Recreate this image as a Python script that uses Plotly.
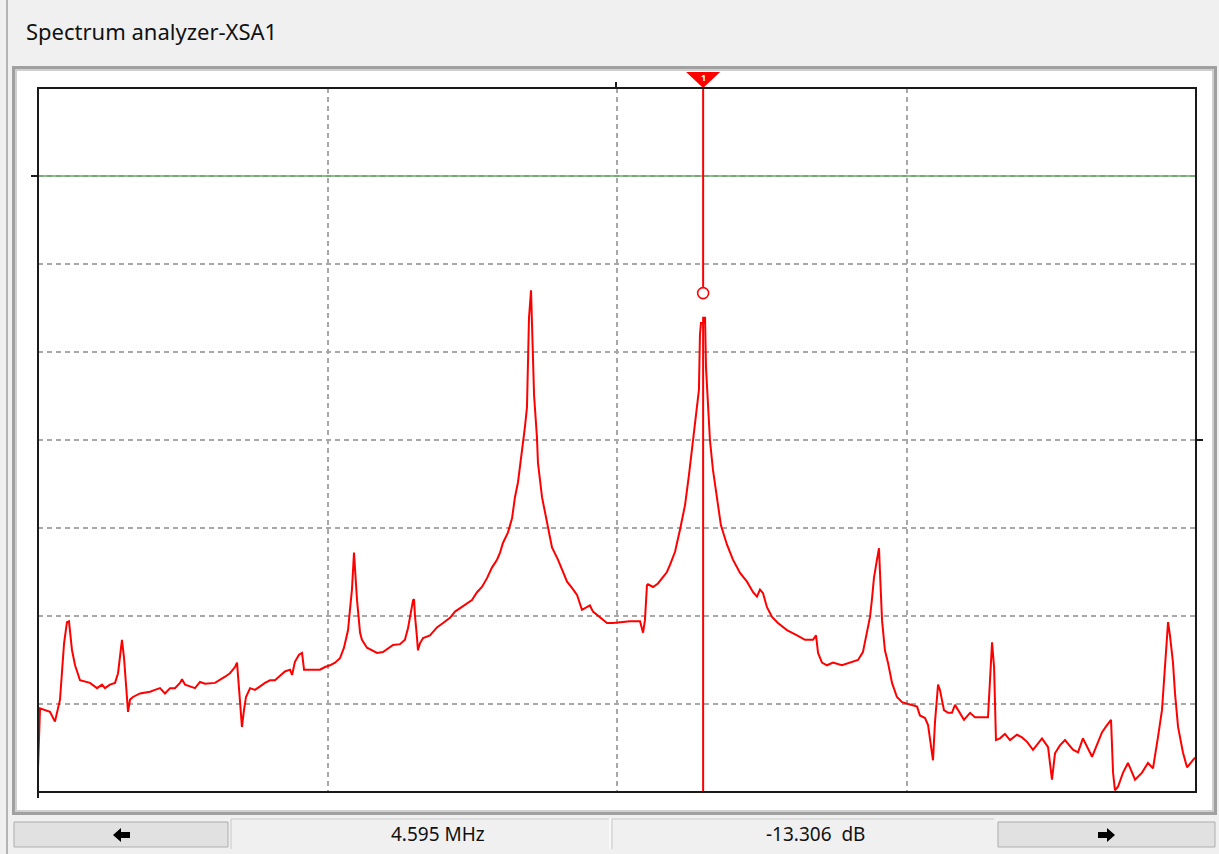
import plotly.graph_objects as go

# ---------------- data ----------------
freq_mhz = [
    0.000, 0.007, 0.014, 0.083, 0.117, 0.152, 0.166, 0.180, 0.200, 0.214,
    0.235, 0.256, 0.290, 0.359, 0.408, 0.442, 0.463, 0.497, 0.532, 0.553,
    0.580, 0.594, 0.608, 0.622, 0.636, 0.656, 0.705, 0.774, 0.808, 0.843,
    0.877, 0.912, 0.946, 0.981, 0.995, 1.016, 1.050, 1.085, 1.119, 1.154,
    1.223, 1.257, 1.292, 1.326, 1.361, 1.375, 1.396, 1.409, 1.423, 1.437,
    1.465, 1.499, 1.534, 1.568, 1.603, 1.637, 1.672, 1.706, 1.741, 1.755,
    1.775, 1.803, 1.824, 1.838, 1.879, 1.948, 1.983, 2.017, 2.052, 2.086,
    2.114, 2.142, 2.155, 2.169, 2.183, 2.204, 2.225, 2.238, 2.273, 2.342,
    2.383, 2.453, 2.501, 2.535, 2.556, 2.570, 2.591, 2.598, 2.604, 2.618,
    2.625, 2.639, 2.660, 2.708, 2.756, 2.798, 2.846, 2.881, 2.915, 2.964,
    2.998, 3.033, 3.067, 3.102, 3.136, 3.171, 3.192, 3.212, 3.247, 3.275,
    3.295, 3.316, 3.330, 3.351, 3.364, 3.378, 3.385, 3.392, 3.406, 3.413,
    3.427, 3.447, 3.454, 3.482, 3.516, 3.551, 3.592, 3.620, 3.655, 3.689,
    3.724, 3.758, 3.793, 3.813, 3.834, 3.883, 3.931, 3.972, 4.035, 4.090,
    4.159, 4.173, 4.180, 4.193, 4.207, 4.214, 4.249, 4.283, 4.318, 4.345,
    4.366, 4.401, 4.435, 4.470, 4.497, 4.525, 4.546, 4.566, 4.573, 4.580,
    4.601, 4.608, 4.615, 4.629, 4.642, 4.663, 4.691, 4.718, 4.760, 4.801,
    4.850, 4.898, 4.940, 4.967, 4.988, 5.009, 5.036, 5.071, 5.112, 5.174,
    5.244, 5.299, 5.354, 5.375, 5.389, 5.416, 5.451, 5.492, 5.554, 5.610,
    5.665, 5.699, 5.727, 5.748, 5.762, 5.775, 5.796, 5.810, 5.817, 5.831,
    5.851, 5.872, 5.900, 5.934, 5.969, 6.038, 6.073, 6.093, 6.128, 6.149,
    6.169, 6.183, 6.197, 6.211, 6.218, 6.231, 6.259, 6.287, 6.314, 6.335,
    6.363, 6.397, 6.439, 6.473, 6.563, 6.570, 6.584, 6.591, 6.605, 6.618,
    6.646, 6.680, 6.715, 6.763, 6.798, 6.833, 6.874, 6.936, 6.978, 7.005,
    7.026, 7.060, 7.095, 7.150, 7.185, 7.219, 7.282, 7.351, 7.385, 7.413,
    7.427, 7.440, 7.461, 7.496, 7.530, 7.579, 7.627, 7.668, 7.703, 7.717,
    7.737, 7.765, 7.786, 7.800, 7.807, 7.820, 7.841, 7.855, 7.876, 7.910,
    7.938, 7.993,
]
level_db = [
    -67.3, -62.2, -60.5, -60.9, -62.0, -59.5, -56.4, -53.1, -50.7, -50.6,
    -53.9, -55.6, -57.3, -57.6, -58.2, -57.8, -58.2, -57.8, -57.6, -56.5,
    -52.7, -54.7, -57.8, -60.9, -59.5, -59.2, -58.8, -58.6, -58.4, -58.2,
    -58.8, -58.2, -58.2, -57.6, -57.2, -57.8, -58.0, -58.2, -57.5, -57.7,
    -57.6, -57.3, -56.9, -56.5, -55.8, -55.3, -59.5, -62.6, -60.7, -59.2,
    -58.2, -58.4, -58.0, -57.6, -57.3, -57.3, -56.8, -56.3, -56.1, -56.7,
    -55.2, -54.4, -54.2, -56.1, -56.1, -56.1, -55.8, -55.6, -55.3, -54.8,
    -53.6, -51.6, -49.3, -47.0, -42.8, -48.2, -51.9, -52.7, -53.6, -54.2,
    -54.1, -53.3, -53.2, -52.7, -51.4, -49.9, -48.2, -48.1, -49.9, -52.4,
    -53.9, -53.1, -52.5, -52.2, -51.3, -50.8, -50.2, -49.5, -49.1, -48.5,
    -48.2, -47.3, -46.7, -45.7, -44.5, -43.6, -42.8, -41.7, -40.5, -38.9,
    -36.5, -34.8, -33.1, -30.3, -28.5, -26.3, -22.0, -16.1, -13.0, -17.2,
    -24.9, -29.7, -32.6, -36.5, -39.4, -42.2, -43.6, -44.8, -46.1, -46.8,
    -47.6, -49.3, -49.0, -48.8, -49.5, -50.2, -50.8, -50.8, -50.7, -50.6,
    -50.6, -51.6, -51.9, -50.5, -46.5, -46.4, -46.7, -46.3, -45.6, -45.0,
    -44.2, -42.7, -40.2, -37.4, -34.0, -30.0, -26.6, -24.3, -18.1, -16.7,
    -16.7, -16.0, -21.8, -26.6, -30.0, -33.4, -36.8, -39.7, -41.9, -43.6,
    -45.1, -46.1, -47.3, -47.8, -47.0, -47.4, -49.0, -50.1, -50.8, -51.6,
    -52.2, -52.7, -52.7, -52.2, -54.2, -55.3, -55.6, -55.3, -55.6, -55.3,
    -55.0, -54.1, -51.9, -50.1, -48.0, -45.7, -43.6, -42.3, -45.1, -50.5,
    -53.9, -55.3, -57.6, -59.2, -59.8, -60.1, -60.3, -61.3, -61.6, -62.4,
    -64.9, -66.4, -62.0, -59.3, -57.8, -58.4, -60.7, -61.0, -61.0, -60.1,
    -60.9, -61.8, -61.0, -61.5, -61.5, -59.3, -55.0, -53.0, -55.8, -64.1,
    -63.9, -63.4, -64.1, -63.5, -63.8, -64.3, -65.2, -63.9, -64.9, -68.6,
    -65.6, -64.7, -64.1, -65.2, -65.5, -63.9, -66.0, -63.2, -62.4, -61.8,
    -67.8, -69.8, -69.4, -67.8, -66.7, -68.6, -67.8, -66.7, -67.3, -66.0,
    -63.8, -60.7, -55.8, -51.8, -50.7, -52.2, -55.3, -58.8, -62.6, -65.5,
    -67.2, -66.1,
]

marker_freq_mhz = 4.595
marker_level_db = -13.306
threshold_db = 0
freq_range = [0, 8]
level_range = [-70, 10]
freq_grid = [2, 4, 6]
level_grid = [0, -10, -20, -30, -40, -50, -60]

title_text = "Spectrum analyzer-XSA1"
freq_label = "4.595 MHz"
level_label = "-13.306  dB"

# ---------------- geometry helpers (layout only) ----------------
W, H = 1219, 854
L, R, T, B = 38, 1196, 88, 792


def px(X):
    return (X - L) / (R - L)


def py(Y):
    return (B - Y) / (B - T)


def prect(x0, y0, x1, y1, fill, line=None, lw=0, layer="below"):
    return dict(type="rect", xref="paper", yref="paper",
                x0=px(x0), x1=px(x1), y0=py(y1), y1=py(y0),
                fillcolor=fill, line=dict(color=line or fill, width=lw),
                layer=layer)


def pline(x0, y0, x1, y1, color, lw=1, layer="below"):
    return dict(type="line", xref="paper", yref="paper",
                x0=px(x0), x1=px(x1), y0=py(y0), y1=py(y1),
                line=dict(color=color, width=lw), layer=layer)


def ppath(points, fill):
    d = "M " + " L ".join(f"{px(a)},{py(b)}" for a, b in points) + " Z"
    return dict(type="path", xref="paper", yref="paper", path=d,
                fillcolor=fill, line=dict(color=fill, width=0), layer="above")


fig = go.Figure()

fig.add_trace(go.Scatter(
    x=freq_mhz, y=level_db, mode="lines",
    line=dict(color="#ff0000", width=2),
    hoverinfo="skip", showlegend=False,
))

# marker circle
fig.add_trace(go.Scatter(
    x=[marker_freq_mhz], y=[marker_level_db], mode="markers",
    marker=dict(symbol="circle-open", size=11, color="#ff0000",
                line=dict(width=1.6, color="#ff0000")),
    hoverinfo="skip", showlegend=False, cliponaxis=False,
))

peak_near_marker = max(l for f, l in zip(freq_mhz, level_db)
                       if abs(f - marker_freq_mhz) < 0.02)

shapes = []
# page decorations
shapes.append(pline(7, 0, 7, 854, "#b4b4b4", 2))
shapes.append(prect(12, 66, 1217, 815, "#a0a0a0"))
shapes.append(prect(15, 69, 1214, 812, "#cfcfcf"))
shapes.append(prect(17, 71, 1212, 810, "#ffffff"))

# bottom control row
shapes.append(prect(14, 822, 228, 847, "#e1e1e1", "#adadad", 1))
shapes.append(prect(998, 822, 1215, 847, "#e1e1e1", "#adadad", 1))
shapes.append(prect(231, 819, 609, 849, "#f0f0f0"))
shapes.append(pline(231, 819, 609, 819, "#c8c8c8", 1))
shapes.append(pline(231, 819, 231, 849, "#c8c8c8", 1))
shapes.append(prect(612, 819, 994, 849, "#f0f0f0"))
shapes.append(pline(612, 819, 994, 819, "#c8c8c8", 1))
shapes.append(pline(612, 819, 612, 849, "#c8c8c8", 1))
shapes.append(pline(610, 819, 610, 849, "#ffffff", 1))
# arrows
shapes.append(ppath([(113, 835), (121, 828), (121, 832), (130, 832),
                     (130, 838), (121, 838), (121, 842)], "#000000"))
shapes.append(ppath([(1115, 835), (1107, 828), (1107, 832), (1098, 832),
                     (1098, 838), (1107, 838), (1107, 842)], "#000000"))

# threshold line
shapes.append(dict(type="line", xref="paper", yref="y", x0=0, x1=1,
                   y0=threshold_db, y1=threshold_db,
                   line=dict(color="#69a869", width=1.6), layer="above"))

# marker line
shapes.append(dict(type="line", xref="x", yref="y",
                   x0=marker_freq_mhz, x1=marker_freq_mhz,
                   y0=level_range[1], y1=marker_level_db + 0.7,
                   line=dict(color="#ff0000", width=2), layer="above"))
shapes.append(dict(type="line", xref="x", yref="y",
                   x0=marker_freq_mhz, x1=marker_freq_mhz,
                   y0=peak_near_marker, y1=level_range[0],
                   line=dict(color="#ff0000", width=2), layer="above"))
# marker triangle
half_w = 17 / (R - L) * (freq_range[1] - freq_range[0])
shapes.append(dict(type="path", xref="x", yref="paper",
                   path=(f"M {marker_freq_mhz - half_w},{py(72)} "
                         f"L {marker_freq_mhz + half_w},{py(72)} "
                         f"L {marker_freq_mhz},{py(88)} Z"),
                   fillcolor="#ff0000", line=dict(color="#ff0000", width=0),
                   layer="above"))

# plot frame and edge ticks
shapes.append(dict(type="rect", xref="paper", yref="paper", x0=0, x1=1,
                   y0=0, y1=1, line=dict(color="#1a1a1a", width=2),
                   layer="above"))
shapes.append(pline(31, 176, 38, 176, "#1a1a1a", 2, "above"))
shapes.append(pline(1196, 440, 1203, 440, "#1a1a1a", 2, "above"))
shapes.append(pline(616, 82, 616, 88, "#1a1a1a", 2, "above"))
shapes.append(pline(38, 792, 38, 798, "#1a1a1a", 2, "above"))

annotations = [
    dict(text=title_text, xref="paper", yref="paper", x=px(24), y=py(31),
         xanchor="left", yanchor="middle", showarrow=False,
         font=dict(family="Noto Sans", size=22, color="#111111")),
    dict(text=freq_label, xref="paper", yref="paper", x=px(438), y=py(834),
         xanchor="center", yanchor="middle", showarrow=False,
         font=dict(family="Noto Sans", size=19, color="#111111")),
    dict(text=level_label, xref="paper", yref="paper", x=px(815), y=py(834),
         xanchor="center", yanchor="middle", showarrow=False,
         font=dict(family="Noto Sans", size=19, color="#111111")),
    dict(text="<b>1</b>", xref="x", yref="paper", x=marker_freq_mhz,
         y=py(77), xanchor="center", yanchor="middle", showarrow=False,
         font=dict(family="Noto Sans", size=9, color="#ffffff")),
]

fig.update_layout(
    width=W, height=H,
    margin=dict(l=L, r=W - R, t=T, b=H - B, pad=0),
    paper_bgcolor="#f0f0f0",
    plot_bgcolor="#ffffff",
    shapes=shapes,
    annotations=annotations,
    showlegend=False,
    xaxis=dict(range=freq_range, tickvals=freq_grid, showticklabels=False,
               ticks="", showgrid=True, gridcolor="#a8a8a8", gridwidth=1.5,
               griddash="5px,4px", zeroline=False, showline=False,
               fixedrange=True),
    yaxis=dict(range=level_range, tickvals=level_grid, showticklabels=False,
               ticks="", showgrid=True, gridcolor="#a8a8a8", gridwidth=1.5,
               griddash="5px,4px", zeroline=False, showline=False,
               fixedrange=True),
)

fig.write_html("out.html", config={"displayModeBar": False})
